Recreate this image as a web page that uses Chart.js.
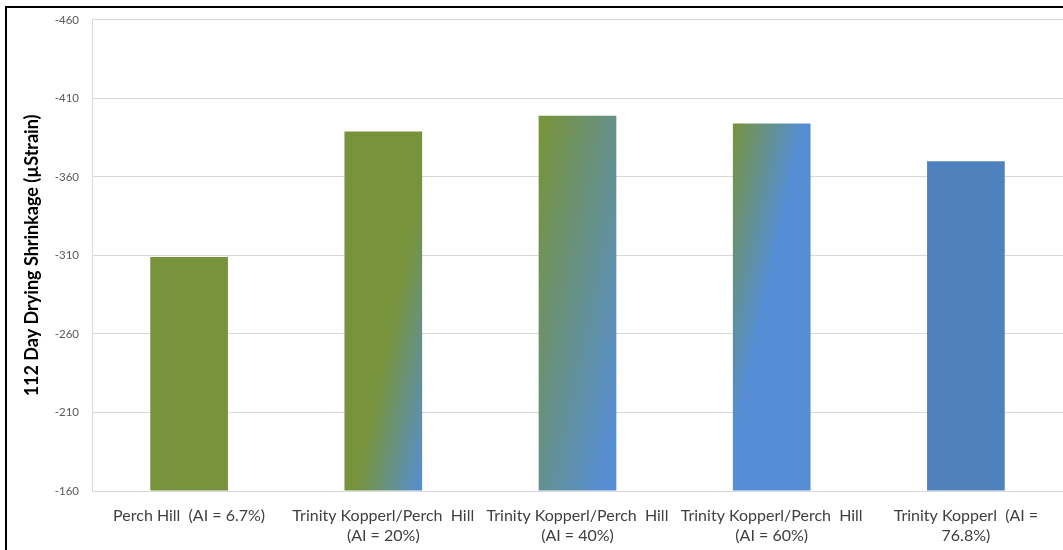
<!DOCTYPE html>
<html>
<head>
<meta charset="utf-8">
<script src="https://cdn.jsdelivr.net/npm/chart.js@4.4.1/dist/chart.umd.min.js"></script>
<style>
  html, body { margin: 0; padding: 0; background: #fff; }
  #wrap { position: relative; width: 1063px; height: 550px; }
  #frame { position: absolute; left: 5px; top: 6px; width: 1063px; height: 550px;
           border-left: 2px solid #000; border-top: 2px solid #000; pointer-events: none; }
</style>
</head>
<body>
<div id="wrap">
  <canvas id="c" width="1063" height="550"></canvas>
  <div id="frame"></div>
</div>
<script>
const categories = [
  ["Perch Hill  (AI = 6.7%)"],
  ["Trinity Kopperl/Perch  Hill", "(AI = 20%)"],
  ["Trinity Kopperl/Perch  Hill", "(AI = 40%)"],
  ["Trinity Kopperl/Perch  Hill", "(AI = 60%)"],
  ["Trinity Kopperl  (AI =", "76.8%)"]
];
const shrinkage = [-309, -389, -399, -394, -370];
const yMin = -460;
const yMax = -160;
const yStep = 50;
const yTitle = "112 Day Drying Shrinkage (\u00b5Strain)";

const GREEN = [119, 147, 60];
const BLUE = [85, 142, 213];
const BLUE_SOLID = "rgb(79,129,189)";
// per-bar gradient: fraction range (green end -> blue end) along a mostly-horizontal diagonal; null = solid
const gradStops = [null, [0.58, 1.0], [0.05, 0.92], [0.0, 0.45], null];
const SLOPE = 0.22;

function mix(f) {
  f = Math.min(1, Math.max(0, f));
  return `rgb(${Math.round(GREEN[0] + (BLUE[0] - GREEN[0]) * f)},${Math.round(GREEN[1] + (BLUE[1] - GREEN[1]) * f)},${Math.round(GREEN[2] + (BLUE[2] - GREEN[2]) * f)})`;
}

function barFill(ctx) {
  const chart = ctx.chart;
  const i = ctx.dataIndex;
  const s = gradStops[i];
  if (!s) return i === 0 ? mix(0) : BLUE_SOLID;
  const xs = chart.scales.x, ys = chart.scales.y;
  if (!xs || !ys || !chart.chartArea) return mix(0);
  const cx = xs.getPixelForValue(i);
  const w = (xs.width / categories.length) * 0.4;
  const top = ys.getPixelForValue(shrinkage[i]);
  const bot = ys.getPixelForValue(yMax);
  const h = bot - top;
  const uMax = w + SLOPE * h;
  const a = uMax / (1 + SLOPE * SLOPE);
  const x0 = cx - w / 2, y0 = top;
  const g = chart.ctx.createLinearGradient(x0, y0, x0 + a, y0 + a * SLOPE);
  for (let k = 0; k <= 20; k++) {
    const t = k / 20;
    g.addColorStop(t, mix((t - s[0]) / (s[1] - s[0])));
  }
  return g;
}

const titlePlugin = {
  id: 'yTitle',
  afterDraw(chart) {
    const ctx = chart.ctx;
    const ca = chart.chartArea;
    ctx.save();
    ctx.translate(32, (ca.top + ca.bottom) / 2);
    ctx.rotate(-Math.PI / 2);
    ctx.font = "bold 18px Lato, 'Open Sans', sans-serif";
    ctx.fillStyle = "#000";
    ctx.textAlign = "center";
    ctx.textBaseline = "middle";
    ctx.fillText(yTitle, 0, 0);
    ctx.restore();
  }
};

new Chart(document.getElementById('c'), {
  type: 'bar',
  data: {
    labels: categories,
    datasets: [{
      data: shrinkage,
      base: yMax,
      backgroundColor: barFill,
      borderWidth: 0,
      barPercentage: 0.4,
      categoryPercentage: 1.0
    }]
  },
  options: {
    responsive: false,
    animation: false,
    devicePixelRatio: 1,
    layout: { padding: { top: 19, right: 0, bottom: 0, left: 0 } },
    plugins: { legend: { display: false }, tooltip: { enabled: false } },
    scales: {
      x: {
        offset: true,
        grid: { display: false, drawTicks: false },
        border: { display: true, color: '#d9d9d9' },
        ticks: {
          color: '#404040',
          font: { family: "Lato, 'Open Sans', sans-serif", size: 16, lineHeight: 1.3 },
          padding: 14,
          maxRotation: 0, autoSkip: false
        },
        afterFit: (s) => { s.height = 59; }
      },
      y: {
        reverse: true,
        min: yMin, max: yMax,
        grid: { color: '#d9d9d9', drawTicks: false },
        border: { display: true, color: '#d9d9d9' },
        ticks: {
          stepSize: yStep,
          color: '#595959',
          font: { family: "Lato, 'Open Sans', sans-serif", size: 11.5 },
          padding: 13
        },
        afterFit: (s) => { s.width = 92; }
      }
    }
  },
  plugins: [titlePlugin]
});
</script>
</body>
</html>
